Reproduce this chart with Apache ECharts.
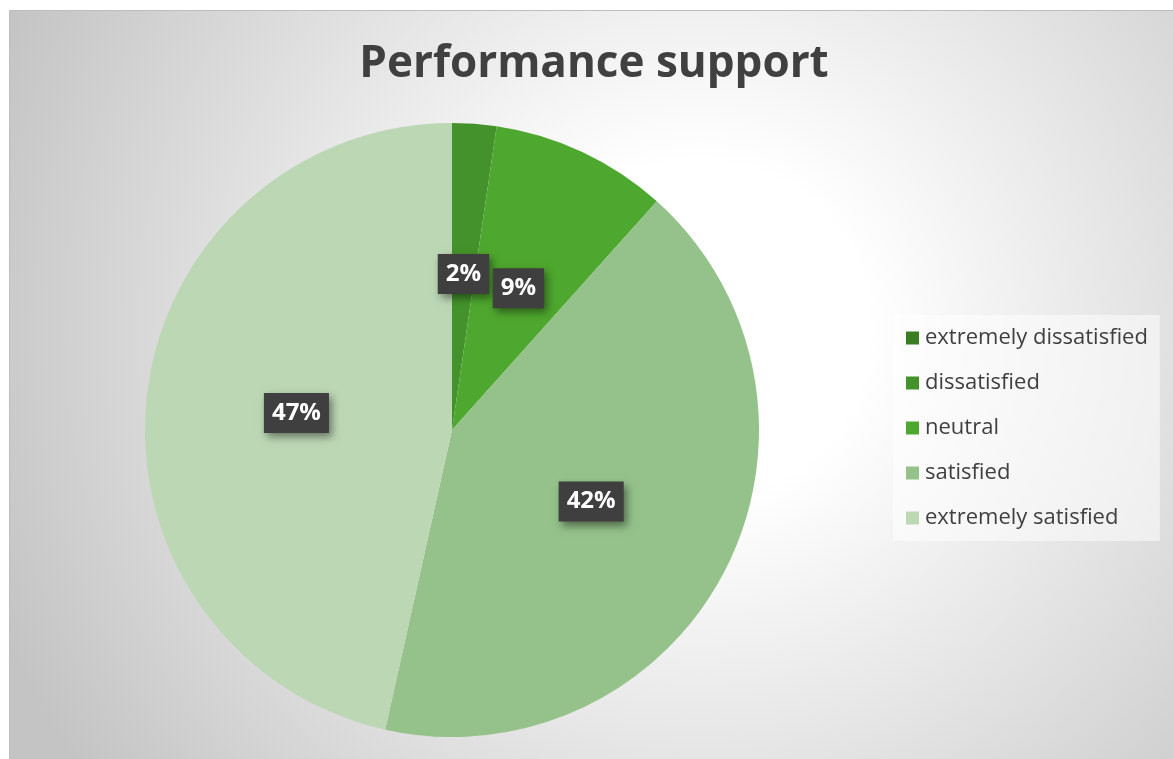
<!DOCTYPE html>
<html>
<head>
<meta charset="utf-8">
<script src="https://cdn.jsdelivr.net/npm/echarts@6/dist/echarts.min.js"></script>
<style>
  html, body { margin: 0; padding: 0; background: #ffffff; }
  #chart { position: absolute; left: 0; top: 0; width: 1173px; height: 759px; }
</style>
</head>
<body>
<div id="chart"></div>
<script>
// Survey responses (counts per answer)
const categories = ['extremely dissatisfied', 'dissatisfied', 'neutral', 'satisfied', 'extremely satisfied'];
const responses = [0, 1, 4, 18, 20];
const sliceColors = ['#3b7d23', '#43922b', '#4ea72e', '#94c28a', '#bcd7b4'];
const chartTitle = 'Performance support';

const chart = echarts.init(document.getElementById('chart'), null, { renderer: 'canvas' });

const pieData = categories.map((name, i) => ({
  name: name,
  value: responses[i],
  itemStyle: { color: sliceColors[i] }
}));

chart.setOption({
  animation: false,
  graphic: [{
    type: 'rect',
    z: -10,
    silent: true,
    shape: { x: 9.5, y: 10.5, width: 1175, height: 760 },
    style: {
      fill: {
        type: 'radial', x: 700, y: 330, r: 760, global: true,
        colorStops: [
          { offset: 0, color: '#ffffff' },
          { offset: 0.22, color: '#ffffff' },
          { offset: 1, color: '#c4c4c4' }
        ]
      },
      stroke: '#bdbdbd',
      lineWidth: 1
    }
  }],
  title: {
    text: chartTitle,
    left: 594,
    top: 42,
    textAlign: 'center',
    padding: 0,
    textStyle: {
      fontFamily: 'Open Sans',
      fontWeight: 'bold',
      fontSize: 44,
      color: '#404040'
    }
  },
  legend: {
    orient: 'vertical',
    left: 893,
    top: 315,
    padding: [12, 12, 12, 13],
    backgroundColor: 'rgba(255,255,255,0.5)',
    icon: 'rect',
    itemWidth: 13,
    itemHeight: 13,
    itemGap: 23,
    itemStyle: { borderWidth: 0 },
    textStyle: {
      fontFamily: 'Open Sans',
      fontSize: 22,
      lineHeight: 22,
      color: '#404040',
      padding: [0, 0, 0, 1]
    },
    data: categories
  },
  series: [{
    type: 'pie',
    center: [452, 430],
    radius: [0, 307],
    startAngle: 90,
    clockwise: true,
    percentPrecision: 0,
    stillShowZeroSum: true,
    minShowLabelAngle: -1,
    itemStyle: { borderWidth: 0 },
    label: {
      show: true,
      position: 'inside',
      formatter: '{d}%',
      color: '#ffffff',
      fontFamily: 'Open Sans',
      fontWeight: 'bold',
      fontSize: 24,
      lineHeight: 24,
      backgroundColor: '#3f3f3f',
      padding: [8, 8, 8, 8],
      shadowColor: 'rgba(0,0,0,0.45)',
      shadowBlur: 8,
      shadowOffsetX: 3,
      shadowOffsetY: 4
    },
    labelLine: { show: false },
    emphasis: { disabled: true },
    data: pieData
  }]
});
</script>
</body>
</html>
